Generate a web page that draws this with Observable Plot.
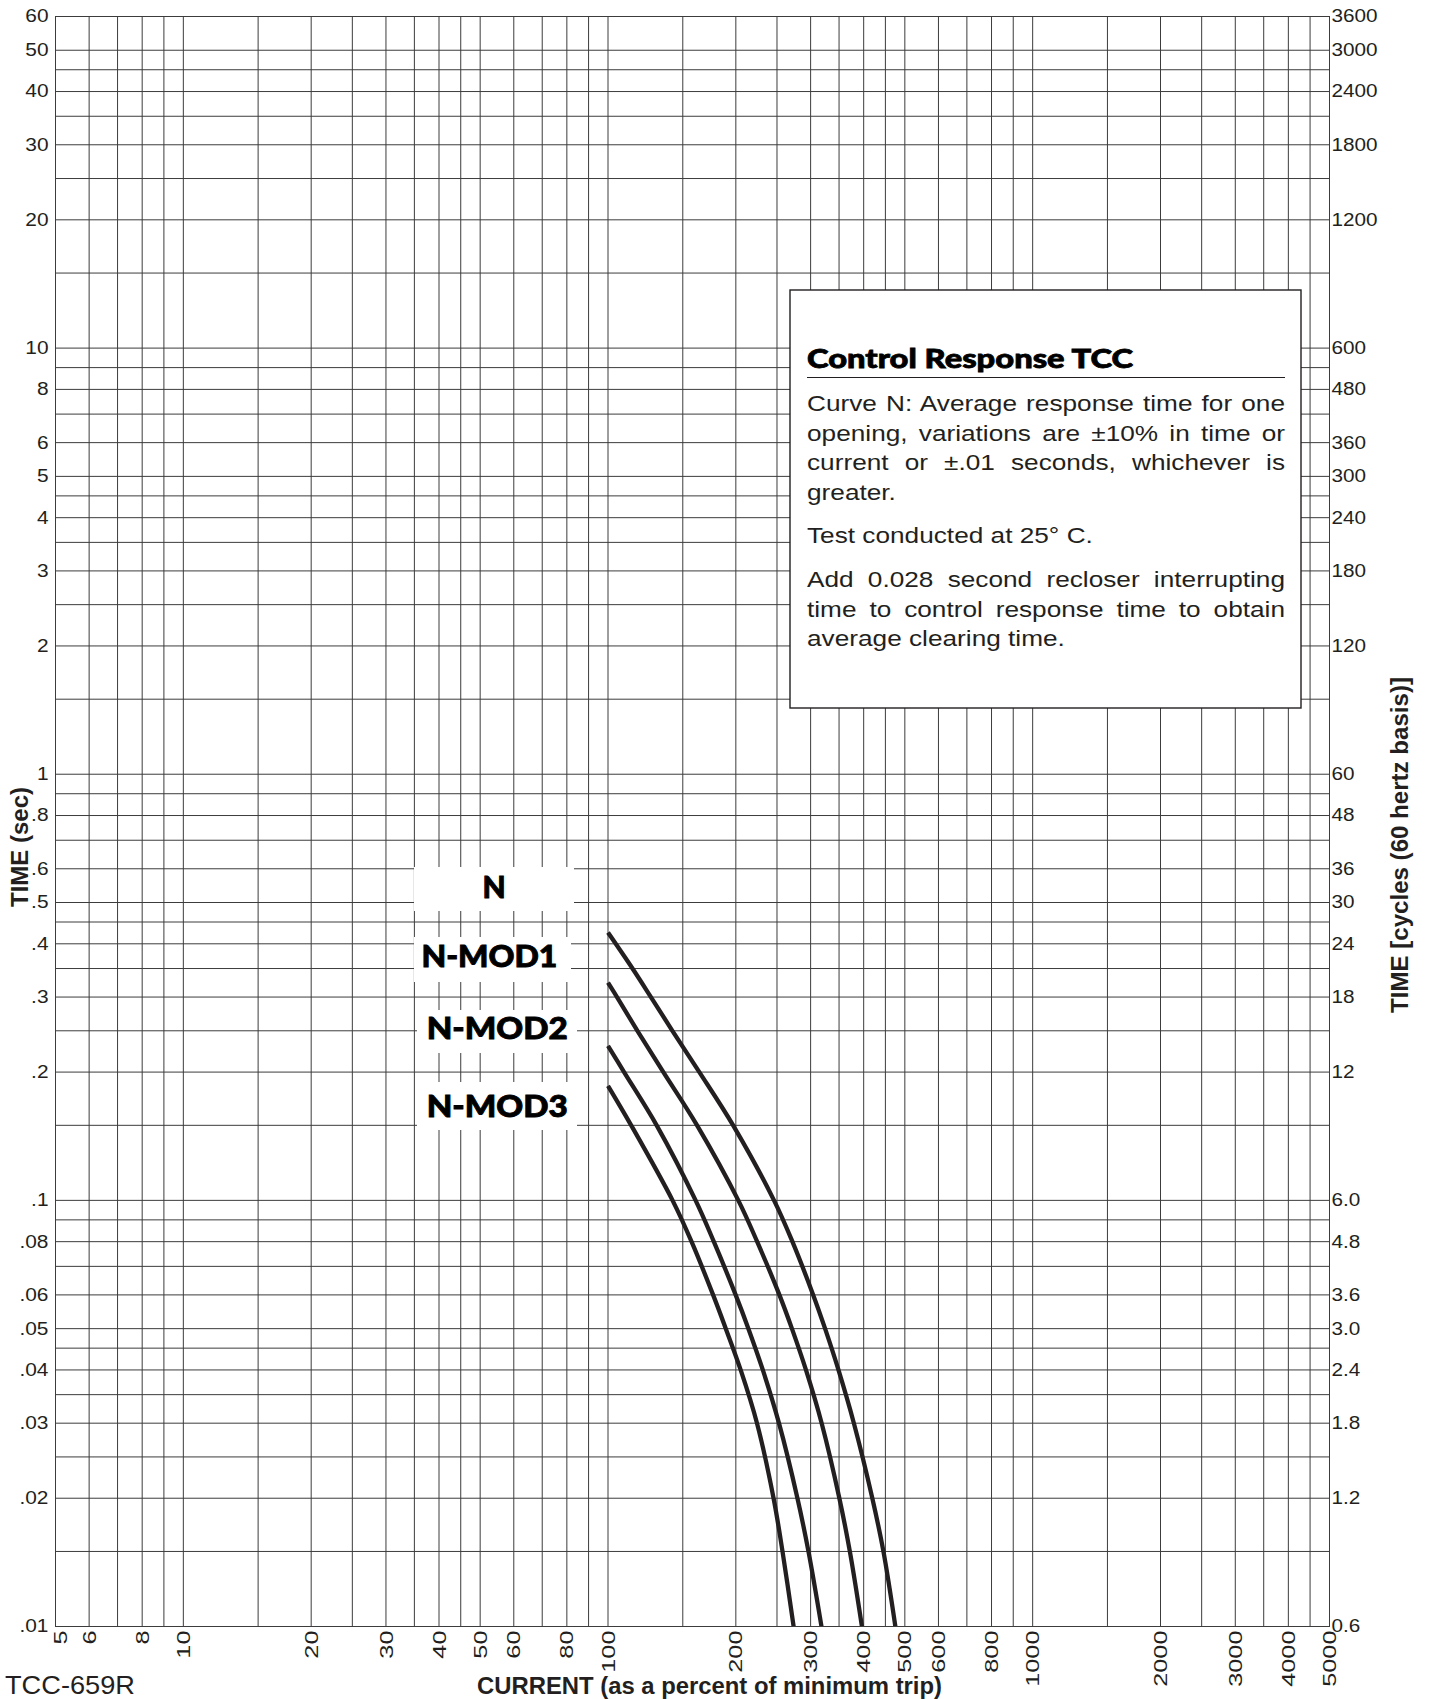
<!DOCTYPE html>
<html>
<head>
<meta charset="utf-8">
<script src="https://cdn.jsdelivr.net/npm/d3@7"></script>
<script src="https://cdn.jsdelivr.net/npm/@observablehq/plot@0.6"></script>
<style>
  html, body { margin: 0; padding: 0; background: #fff; }
  #chart { position: relative; width: 1430px; height: 1699px; }
  #chart svg { display: block; }
</style>
</head>
<body>
<div id="chart"></div>
<script>
// ---------------- DATA ----------------
const curveNames = ["N", "N-MOD1", "N-MOD2", "N-MOD3"];

// current (% of minimum trip) and response time (s)
const currentN    = [100, 114.2, 126.2, 141.8, 164.1, 197.1, 246, 271.8, 304.2, 324.5, 348.9, 379.3, 419.2, 445.2, 475];
const timeN       = [0.425, 0.35, 0.30, 0.25, 0.20, 0.15, 0.10, 0.08, 0.06, 0.05, 0.04, 0.03, 0.02, 0.015, 0.01];
const currentMod1 = [100, 105, 117.3, 135, 162.1, 202.7, 224.5, 253.3, 271.1, 292.5, 318.5, 350.6, 371.1, 396.2];
const timeMod1    = [0.3245, 0.30, 0.25, 0.20, 0.15, 0.10, 0.08, 0.06, 0.05, 0.04, 0.03, 0.02, 0.015, 0.01];
const currentMod2 = [100, 109.1, 130.2, 160.8, 177.5, 199.8, 214.1, 231.5, 252.7, 279.3, 296.5, 318.2];
const timeMod2    = [0.2305, 0.20, 0.15, 0.10, 0.08, 0.06, 0.05, 0.04, 0.03, 0.02, 0.015, 0.01];
const currentMod3 = [100, 113.4, 141.9, 157.3, 176.8, 189.4, 205.3, 224.3, 245.4, 257.6, 273.6];
const timeMod3    = [0.1857, 0.15, 0.10, 0.08, 0.06, 0.05, 0.04, 0.03, 0.02, 0.015, 0.01];

// grid lines of the log-log paper
const xGridValues = [5, 6, 7, 8, 9, 10, 15, 20, 25, 30, 35, 40, 45, 50, 60, 70, 80, 90,
  100, 150, 200, 250, 300, 350, 400, 450, 500, 600, 700, 800, 900,
  1000, 1500, 2000, 2500, 3000, 3500, 4000, 4500, 5000];
const yGridValues = [0.01, 0.015, 0.02, 0.025, 0.03, 0.035, 0.04, 0.045, 0.05, 0.06, 0.07, 0.08, 0.09,
  0.1, 0.15, 0.2, 0.25, 0.3, 0.35, 0.4, 0.45, 0.5, 0.6, 0.7, 0.8, 0.9,
  1, 1.5, 2, 2.5, 3, 3.5, 4, 4.5, 5, 6, 7, 8, 9,
  10, 15, 20, 25, 30, 35, 40, 45, 50, 60];

// tick labels
const xTickValues = [5, 6, 8, 10, 20, 30, 40, 50, 60, 80, 100, 200, 300, 400, 500, 600, 800, 1000, 2000, 3000, 4000, 5000];
const xTickLabels = ["5", "6", "8", "10", "20", "30", "40", "50", "60", "80", "100", "200", "300", "400", "500", "600", "800", "1000", "2000", "3000", "4000", "5000"];
const yTickValues = [60, 50, 40, 30, 20, 10, 8, 6, 5, 4, 3, 2, 1, 0.8, 0.6, 0.5, 0.4, 0.3, 0.2, 0.1, 0.08, 0.06, 0.05, 0.04, 0.03, 0.02, 0.01];
const yTickLabels = ["60", "50", "40", "30", "20", "10", "8", "6", "5", "4", "3", "2", "1", ".8", ".6", ".5", ".4", ".3", ".2", ".1", ".08", ".06", ".05", ".04", ".03", ".02", ".01"];
const cycleLabels = ["3600", "3000", "2400", "1800", "1200", "600", "480", "360", "300", "240", "180", "120", "60", "48", "36", "30", "24", "18", "12", "6.0", "4.8", "3.6", "3.0", "2.4", "1.8", "1.2", "0.6"];

// texts
const yTitleLeft = "TIME (sec)";
const yTitleRight = "TIME [cycles (60 hertz basis)]";
const xTitle = "CURRENT (as a percent of minimum trip)";
const docId = "TCC-659R";
const noteTitle = "Control Response TCC";
const noteParagraphs = [
  ["Curve N: Average response time for one", "opening, variations are \u00b110% in time or", "current or \u00b1.01 seconds, whichever is", "greater."],
  ["Test conducted at 25\u00b0 C."],
  ["Add 0.028 second recloser interrupting", "time to control response time to obtain", "average clearing time."]
];

// ---------------- BUILD ----------------
const seriesCurrent = [currentN, currentMod1, currentMod2, currentMod3];
const seriesTime = [timeN, timeMod1, timeMod2, timeMod3];
const rows = [];
curveNames.forEach((name, k) => {
  seriesCurrent[k].forEach((c, i) => rows.push({curve: name, current: c, time: seriesTime[k][i]}));
});

const INK = "#231f20";
const GRID = "#3c3c3c";
const SANS = "'Liberation Sans', Arial, Helvetica, sans-serif";
const HEAVY = "Lato, Roboto, 'DejaVu Sans', sans-serif";

const plot = Plot.plot({
  width: 1430,
  height: 1699,
  marginLeft: 55,
  marginRight: 101,
  marginTop: 16,
  marginBottom: 73,
  x: {type: "log", domain: [5, 5000], axis: null},
  y: {type: "log", domain: [0.01, 60], axis: null},
  style: {background: "white", fontFamily: SANS, color: INK},
  marks: [
    Plot.ruleX(xGridValues, {x: d => d, stroke: GRID, strokeWidth: 1}),
    Plot.ruleY(yGridValues, {y: d => d, stroke: GRID, strokeWidth: 1}),
    Plot.frame({stroke: GRID, strokeWidth: 1}),
    Plot.line(rows, {x: "current", y: "time", z: "curve", stroke: INK, strokeWidth: 4.3,
      curve: "catmull-rom", clip: true, strokeLinecap: "butt"}),
    Plot.text(yTickValues, {y: d => d, text: (d, i) => yTickLabels[i], frameAnchor: "left",
      textAnchor: "end", dx: -7, fontSize: 18.5, fill: INK}),
    Plot.text(yTickValues, {y: d => d, text: (d, i) => cycleLabels[i], frameAnchor: "right",
      textAnchor: "start", dx: 2, fontSize: 18.5, fill: INK}),
    Plot.text(xTickValues, {x: d => d, text: (d, i) => xTickLabels[i], frameAnchor: "bottom",
      rotate: -90, textAnchor: "end", dx: 6.6, dy: 4, fontSize: 18.5, fill: INK})
  ]
});

document.getElementById("chart").appendChild(plot);
const svg = d3.select(plot);

// stretch glyphs along their reading direction (the original lettering is wide)
function stretch(nodes, sx) {
  nodes.forEach(node => {
    const t = node.getAttribute("transform") || "";
    node.setAttribute("transform", `${t} scale(${sx},1)`);
  });
}
const textGroups = svg.selectAll('g[aria-label="text"]').nodes();
if (textGroups.length >= 3) {
  stretch(Array.from(textGroups[0].querySelectorAll("text")), 1.13);
  stretch(Array.from(textGroups[1].querySelectorAll("text")), 1.12);
  const xt = Array.from(textGroups[2].querySelectorAll("text"));
  stretch(xt, 1.37);
  // the "5" label sits just right of the corner in the original
  if (xt.length) xt[0].setAttribute("transform", "translate(5,0) " + xt[0].getAttribute("transform"));
}

const ann = svg.append("g").attr("aria-label", "annotations").attr("text-anchor", "start");

// curve labels on white boxes
const labelBoxes = [
  {x: 414, y: 867, w: 160, h: 44, cx: 494, base: 898.3, len: null},
  {x: 414, y: 937, w: 157, h: 45, cx: 489.4, base: 966.7, len: 136},
  {x: 417, y: 1010, w: 160, h: 43, cx: 497.2, base: 1039.3, len: 141},
  {x: 417, y: 1082, w: 160, h: 48, cx: 497.2, base: 1116.7, len: 141}
];
labelBoxes.forEach((b, i) => {
  ann.append("rect").attr("x", b.x).attr("y", b.y).attr("width", b.w).attr("height", b.h).attr("fill", "white");
  const t = ann.append("text").attr("x", b.cx).attr("y", b.base)
    .attr("text-anchor", "middle").attr("font-family", HEAVY).attr("font-weight", 900)
    .attr("font-size", 30).attr("fill", "#000").attr("stroke", "#000").attr("stroke-width", 0.9)
    .text(curveNames[i]);
  if (b.len) t.attr("textLength", b.len).attr("lengthAdjust", "spacingAndGlyphs");
});

// note box
const note = ann.append("g").attr("aria-label", "note");
note.append("rect").attr("x", 790).attr("y", 290).attr("width", 511).attr("height", 418)
  .attr("fill", "white").attr("stroke", INK).attr("stroke-width", 1.4);
note.append("text").attr("x", 807).attr("y", 368).attr("text-anchor", "start")
  .attr("font-family", HEAVY).attr("font-weight", 900)
  .attr("font-size", 27).attr("fill", "#000").attr("stroke", "#000").attr("stroke-width", 0.8)
  .attr("textLength", 326).attr("lengthAdjust", "spacingAndGlyphs")
  .text(noteTitle);
note.append("line").attr("x1", 807).attr("x2", 1285).attr("y1", 377.5).attr("y2", 377.5)
  .attr("stroke", INK).attr("stroke-width", 1.1);

const paraBase = [[411.3, 440.8, 470.3, 499.8], [543], [587.2, 616.7, 646.2]];
const bodySX = 1.16, bodyW = 478;
noteParagraphs.forEach((lines, p) => {
  lines.forEach((line, i) => {
    const el = note.append("text")
      .attr("transform", `translate(807,${paraBase[p][i]}) scale(${bodySX},1)`)
      .attr("text-anchor", "start")
      .attr("font-family", SANS).attr("font-size", 22.6).attr("fill", INK)
      .text(line);
    if (i < lines.length - 1) {
      const node = el.node();
      const n = (line.match(/ /g) || []).length;
      const L = node.getComputedTextLength();
      if (n > 0) el.style("word-spacing", ((bodyW / bodySX - L) / n) + "px");
    }
  });
});

// axis titles and figure id
ann.append("text").attr("transform", "translate(28,847) rotate(-90)").attr("text-anchor", "middle")
  .attr("font-family", SANS).attr("font-weight", 700).attr("font-size", 23).attr("fill", INK)
  .attr("textLength", 120).attr("lengthAdjust", "spacingAndGlyphs").text(yTitleLeft);
ann.append("text").attr("transform", "translate(1408,845) rotate(-90)").attr("text-anchor", "middle")
  .attr("font-family", SANS).attr("font-weight", 700).attr("font-size", 23).attr("fill", INK)
  .attr("textLength", 336).attr("lengthAdjust", "spacingAndGlyphs").text(yTitleRight);
ann.append("text").attr("x", 709.5).attr("y", 1694).attr("text-anchor", "middle")
  .attr("font-family", SANS).attr("font-weight", 700).attr("font-size", 23).attr("fill", INK)
  .attr("textLength", 465).attr("lengthAdjust", "spacingAndGlyphs").text(xTitle);
ann.append("text").attr("x", 5).attr("y", 1694).attr("text-anchor", "start")
  .attr("font-family", SANS).attr("font-size", 26).attr("fill", INK)
  .attr("textLength", 130).attr("lengthAdjust", "spacingAndGlyphs").text(docId);
</script>
</body>
</html>
